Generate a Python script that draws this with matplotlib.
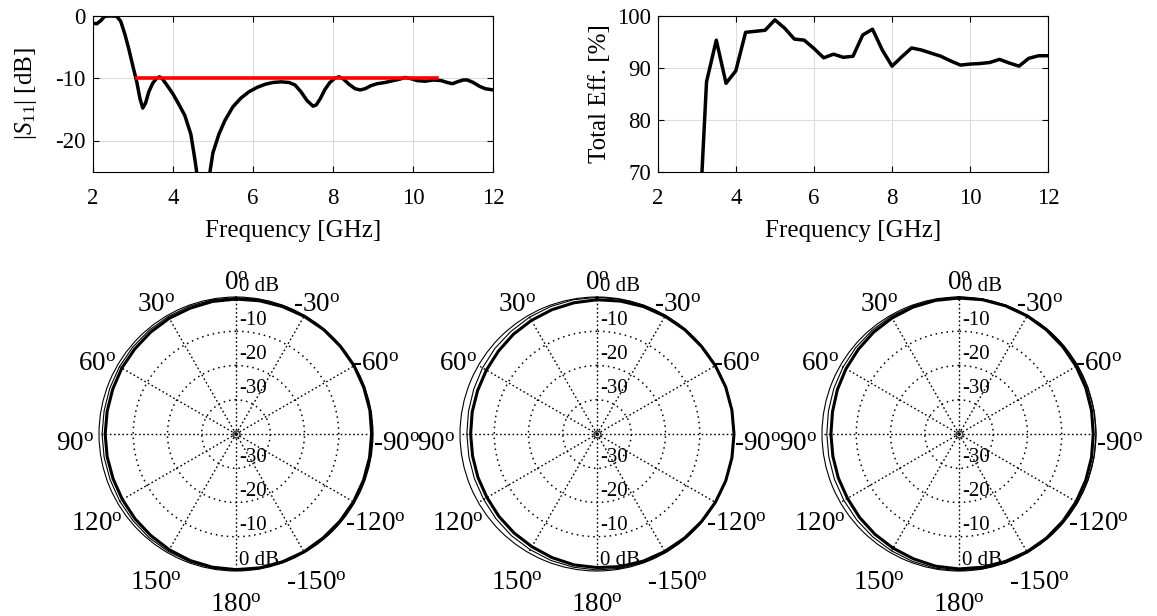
import numpy as np
import matplotlib
matplotlib.use("Agg")
import matplotlib.pyplot as plt

plt.rcParams['font.family'] = ['Liberation Serif', 'DejaVu Serif']
plt.rcParams['mathtext.fontset'] = 'custom'
plt.rcParams['mathtext.rm'] = 'Liberation Serif'
plt.rcParams['mathtext.it'] = 'Liberation Serif:italic'
plt.rcParams['axes.unicode_minus'] = False

# ---------------- data ----------------
s11_freq = [2.00, 2.10, 2.20, 2.30, 2.40, 2.50, 2.60, 2.70, 2.80, 2.90, 3.00, 3.10,
            3.18, 3.25, 3.32, 3.40, 3.50, 3.60, 3.67, 3.75, 3.85, 4.00, 4.15, 4.30,
            4.45, 4.55, 4.65, 4.77, 4.88, 5.00, 5.15, 5.30, 5.50, 5.70, 5.90, 6.10,
            6.30, 6.50, 6.70, 6.90, 7.05, 7.20, 7.35, 7.50, 7.58, 7.68, 7.80, 7.92,
            8.05, 8.15, 8.25, 8.40, 8.55, 8.68, 8.80, 8.95, 9.10, 9.30, 9.50, 9.65,
            9.80, 9.95, 10.10, 10.30, 10.50, 10.70, 10.85, 10.98, 11.10, 11.25, 11.35,
            11.50, 11.65, 11.80, 12.00]
s11_db = [-1.2, -1.3, -0.8, -0.1, -0.05, -0.05, -0.1, -0.9, -2.9, -5.3, -8.0, -10.6,
          -13.3, -14.8, -14.0, -12.2, -10.8, -10.0, -9.8, -10.2, -11.1, -12.5, -14.2, -16.0,
          -19.0, -23.0, -27.5, -35.0, -27.0, -22.0, -19.0, -16.8, -14.6, -13.2, -12.2, -11.5,
          -11.0, -10.7, -10.6, -10.7, -11.1, -12.2, -13.6, -14.5, -14.3, -13.3, -11.8, -10.7,
          -10.0, -9.8, -10.1, -11.0, -11.7, -11.9, -11.7, -11.2, -10.9, -10.7, -10.4, -10.2,
          -9.9, -10.1, -10.4, -10.5, -10.3, -10.4, -10.7, -10.9, -10.6, -10.3, -10.3,
          -10.7, -11.3, -11.7, -11.9]
ref_freq = [3.1, 10.6]
ref_db = [-10, -10]

eff_freq = [3.00, 3.25, 3.50, 3.75, 4.00, 4.25, 4.50, 4.75, 5.00, 5.25, 5.50, 5.75,
            6.00, 6.25, 6.50, 6.75, 7.00, 7.25, 7.50, 7.75, 8.00, 8.25, 8.50, 8.75,
            9.00, 9.25, 9.50, 9.75, 10.00, 10.25, 10.50, 10.75, 11.00, 11.25, 11.50,
            11.75, 12.00]
eff_pct = [50.0, 87.3, 95.3, 87.0, 89.4, 96.8, 97.0, 97.2, 99.2, 97.6, 95.5, 95.3,
           93.7, 91.9, 92.6, 92.0, 92.2, 96.3, 97.4, 93.4, 90.3, 92.1, 93.8, 93.4,
           92.8, 92.2, 91.3, 90.5, 90.7, 90.8, 91.0, 91.6, 90.9, 90.3, 91.8,
           92.3, 92.3]

freq_ticks = [2, 4, 6, 8, 10, 12]
s11_ticks = [-20, -10, 0]
eff_ticks = [70, 80, 90, 100]

# pattern angles (deg, counter-clockwise from top), 10-degree steps
pat_angle = [0, 10, 20, 30, 40, 50, 60, 70, 80, 90, 100, 110,
             120, 130, 140, 150, 160, 170, 180, 190, 200, 210, 220, 230,
             240, 250, 260, 270, 280, 290, 300, 310, 320, 330, 340, 350]
pat1_thick = [-0.6, -0.7, -0.9, -1.0, -1.2, -1.4, -1.5, -1.7, -1.8, -1.8, -1.8, -1.8,
              -1.7, -1.5, -1.3, -1.0, -0.7, -0.5, -0.4, -0.3, -0.3, -0.3, -0.4, -0.4,
              -0.4, -0.4, -0.4, -0.4, -0.3, -0.3, -0.2, -0.2, -0.2, -0.3, -0.4, -0.5]
pat1_thin = [-0.2, -0.2, -0.3, -0.4, -0.5, -0.6, -0.7, -0.8, -0.9, -0.9, -0.9, -0.9,
             -0.8, -0.7, -0.5, -0.4, -0.3, -0.2, -0.2, -0.1, -0.1, -0.1, -0.1, -0.1,
             -0.1, -0.1, -0.1, -0.1, -0.1, -0.1, -0.1, -0.1, -0.1, -0.1, -0.1, -0.1]
pat2_thick = [-0.8, -1.1, -1.4, -1.7, -2.0, -2.4, -2.7, -2.9, -3.0, -3.1, -3.1, -3.0,
              -2.9, -2.6, -2.3, -2.0, -1.6, -1.2, -1.0, -0.7, -0.5, -0.4, -0.3, -0.2,
              -0.1, 0.0, 0.0, 0.0, 0.0, 0.0, -0.1, -0.2, -0.2, -0.3, -0.4, -0.6]
pat2_thin = [-0.1, -0.2, -0.4, -0.6, -0.9, -1.1, -1.4, -1.7, -1.9, -2.0, -2.0, -1.9,
             -1.8, -1.5, -1.2, -1.0, -0.7, -0.5, -0.3, -0.2, -0.1, 0.0, 0.0, 0.0,
             0.0, 0.0, 0.0, 0.0, 0.0, 0.0, 0.0, 0.0, 0.0, 0.0, 0.0, -0.05]
pat3_thick = [-0.3, -0.4, -0.6, -0.9, -1.2, -1.6, -1.9, -2.2, -2.5, -2.6, -2.6, -2.5,
              -2.4, -2.1, -1.8, -1.5, -1.2, -0.8, -0.6, -0.5, -0.4, -0.3, -0.3, -0.4,
              -0.5, -0.6, -0.7, -0.8, -0.7, -0.6, -0.5, -0.4, -0.3, -0.2, -0.2, -0.2]
pat3_thin = [0.0, -0.1, -0.2, -0.3, -0.5, -0.7, -0.9, -1.1, -1.3, -1.4, -1.4, -1.3,
             -1.2, -1.0, -0.8, -0.6, -0.4, -0.2, -0.1, 0.0, 0.0, 0.0, 0.0, 0.0,
             0.0, 0.0, 0.0, 0.0, 0.0, 0.0, 0.0, 0.0, 0.0, 0.0, 0.0, 0.0]

spoke_angles = [0, 30, 60, 90, 120, 150, 180, 210, 240, 270, 300, 330]
spoke_labels = [0, 30, 60, 90, 120, 150, 180, -150, -120, -90, -60, -30]
ring_values = [-30, -20, -10]
ring_labels_r = [0, -10, -20, -30]
ring_labels_txt = ['0 dB', '-10', '-20', '-30']

# ---------------- figure ----------------
W, H = 1157, 616
fig = plt.figure(figsize=(W / 100, H / 100), dpi=100)

TICK_FS = 16.5
LAB_FS = 18


def style_rect(ax):
    ax.tick_params(direction='in', top=True, right=True, length=4, width=0.8,
                   labelsize=TICK_FS)
    ax.tick_params(axis='x', pad=12)
    ax.tick_params(axis='y', pad=5)
    ax.grid(True, color='#dcdcdc', linewidth=0.8)
    ax.set_axisbelow(True)
    for s in ax.spines.values():
        s.set_linewidth(0.8)


ax1 = fig.add_axes([92.7 / W, 1 - 171.7 / H, 400.6 / W, 156 / H])
ax1.plot(s11_freq, s11_db, color='black', linewidth=2.5, zorder=3)
ax1.plot(ref_freq, ref_db, color='#ff0000', linewidth=2.6, zorder=4)
ax1.set_xlim(2, 12)
ax1.set_ylim(-25, 0)
ax1.set_xticks(freq_ticks)
ax1.set_yticks(s11_ticks)
ax1.set_xlabel('Frequency [GHz]', fontsize=LAB_FS)
ax1.set_ylabel(r'|$\mathit{S}_{11}$| [dB]', fontsize=LAB_FS)
style_rect(ax1)
ax1.xaxis.set_label_coords(0.5, -0.31)
ax1.yaxis.set_label_coords(-0.133, 0.5)

ax2 = fig.add_axes([657.7 / W, 1 - 171.7 / H, 390.6 / W, 156 / H])
ax2.plot(eff_freq, eff_pct, color='black', linewidth=2.5, zorder=3)
ax2.set_xlim(2, 12)
ax2.set_ylim(70, 100)
ax2.set_xticks(freq_ticks)
ax2.set_yticks(eff_ticks)
ax2.set_xlabel('Frequency [GHz]', fontsize=LAB_FS)
ax2.set_ylabel('Total Eff. [%]', fontsize=LAB_FS)
style_rect(ax2)
ax2.xaxis.set_label_coords(0.5, -0.31)
ax2.yaxis.set_label_coords(-0.119, 0.5)

# ---------------- polar plots ----------------
centers = [236, 597, 959]
R = 137
patterns = [(pat1_thick, pat1_thin), (pat2_thick, pat2_thin), (pat3_thick, pat3_thin)]

for cx, (thick, thin) in zip(centers, patterns):
    ax = fig.add_axes([(cx - R) / W, (H - 434 - R) / H, 2 * R / W, 2 * R / H],
                      projection='polar')
    ax.set_theta_zero_location('N')
    ax.set_theta_direction(1)
    ax.set_rlim(-40, 0)
    ax.set_thetagrids(spoke_angles, labels=[''] * len(spoke_angles))
    ax.set_rgrids(ring_values, labels=[''] * len(ring_values))
    ax.xaxis.grid(True, color='black', linestyle=(0, (1.2, 1.8)), linewidth=1.0)
    ax.yaxis.grid(True, color='black', linestyle=(0, (1.0, 2.6)), linewidth=1.1)
    ax.spines['polar'].set_linewidth(0.8)
    ax.tick_params(length=0)

    th = np.deg2rad(np.append(pat_angle, pat_angle[0]))
    ax.plot(th, np.append(thin, thin[0]), color='black', linewidth=0.8,
            clip_on=False, zorder=5)
    ax.plot(th, np.append(thick, thick[0]), color='black', linewidth=2.2,
            clip_on=False, zorder=6)

    # centre marker
    ax.plot([0], [-40], marker='o', markersize=5, markerfacecolor='none',
            markeredgecolor='#333333', markeredgewidth=1.0, clip_on=False, zorder=6)

    # angle labels
    for a, lab in zip(spoke_angles, spoke_labels):
        ax.annotate('%d$^{\\mathrm{o}}$' % lab, xy=(np.deg2rad(a), 6.9),
                    xytext=(0, -7.5), textcoords='offset points',
                    ha='center', va='center', fontsize=19.5,
                    annotation_clip=False)

    # radial labels along the vertical axis
    for t in (0.0, np.pi):
        for rv, txt in zip(ring_labels_r, ring_labels_txt):
            ax.annotate(txt, xy=(t, rv), xytext=(2, 1), textcoords='offset points',
                        ha='left', va='bottom', fontsize=15,
                        annotation_clip=False, zorder=4)

fig.savefig('out.png', dpi=100)
